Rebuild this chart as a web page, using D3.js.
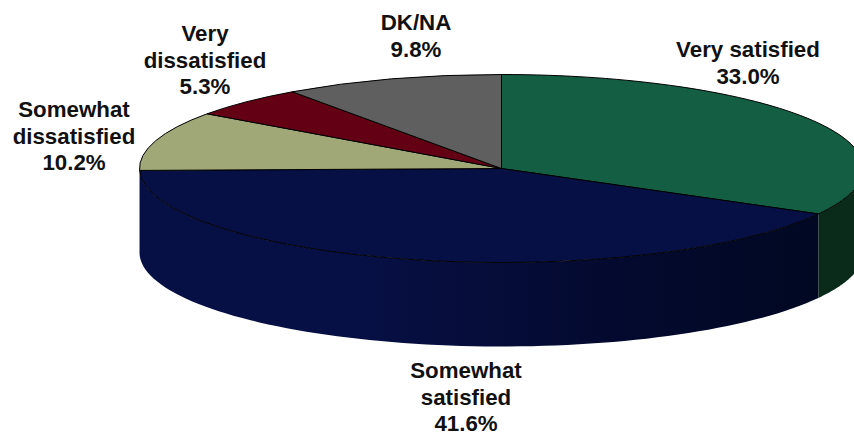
<!DOCTYPE html>
<html>
<head>
<meta charset="utf-8">
<script src="https://cdn.jsdelivr.net/npm/d3@7"></script>
<style>
html, body { margin: 0; padding: 0; background: #fff; overflow: hidden; }
text { font-family: "Liberation Sans", Arial, sans-serif; font-weight: bold; font-size: 22.3px; fill: #111; text-anchor: middle; }
</style>
</head>
<body>
<div id="chart"></div>
<script>
const categories = ["Very satisfied", "Somewhat satisfied", "Somewhat dissatisfied", "Very dissatisfied", "DK/NA"];
const values = [33.0, 41.6, 10.2, 5.3, 9.8];
const labelLines = [["Very satisfied"], ["Somewhat", "satisfied"], ["Somewhat", "dissatisfied"], ["Very", "dissatisfied"], ["DK/NA"]];

const topColors = ["#145e43", "#071045", "#a0a878", "#640014", "#5f5f5f"];
const labelPos = [[748, 57], [466, 378], [74, 117], [205, 41], [416, 30]];

const width = 854, height = 435;
const cx = 501.5, cy = 168.5, rx = 362, ry = 94, depth = 84;
const lineHeight = 26.5;

const svg = d3.select("#chart").append("svg")
    .attr("width", width)
    .attr("height", height);

const defs = svg.append("defs");
const navy = defs.append("linearGradient")
    .attr("id", "navySide")
    .attr("gradientUnits", "userSpaceOnUse")
    .attr("x1", cx - rx).attr("x2", cx + rx).attr("y1", 0).attr("y2", 0);
navy.append("stop").attr("offset", "0%").attr("stop-color", "#071045");
navy.append("stop").attr("offset", "30%").attr("stop-color", "#071045");
navy.append("stop").attr("offset", "62%").attr("stop-color", "#040a30");
navy.append("stop").attr("offset", "100%").attr("stop-color", "#000820");

const pie = d3.pie().sort(null).value(d => d);
const slices = pie(values);

const ex = a => cx + rx * Math.sin(a);
const ey = a => cy - ry * Math.cos(a);

// side wall, only the front half of the ellipse shows
const wall = d3.area()
    .x(a => ex(a))
    .y0(a => ey(a))
    .y1(a => ey(a) + depth);

function wallAngles(a0, a1) {
    const lo = Math.max(a0, Math.PI / 2), hi = Math.min(a1, Math.PI * 1.5);
    if (lo >= hi) return [];
    const n = 80;
    return d3.range(n + 1).map(i => lo + (hi - lo) * i / n);
}

const wallFills = ["#0a2a1a", "url(#navySide)", "url(#navySide)", "none", "none"];

svg.append("g").selectAll("path")
    .data(slices)
    .join("path")
    .attr("fill", (d, i) => wallFills[i])
    .attr("d", d => {
        const pts = wallAngles(d.startAngle, d.endAngle);
        return pts.length ? wall(pts) : null;
    });

// top face: arc squashed into an ellipse
const arc = d3.arc().innerRadius(0).outerRadius(rx);

svg.append("g")
    .attr("transform", `translate(${cx},${cy}) scale(1,${ry / rx})`)
    .selectAll("path")
    .data(slices)
    .join("path")
    .attr("d", arc)
    .attr("fill", (d, i) => topColors[i])
    .attr("stroke", "#000")
    .attr("stroke-width", 1)
    .attr("vector-effect", "non-scaling-stroke");

const labels = svg.append("g").selectAll("text")
    .data(categories)
    .join("text")
    .attr("transform", (d, i) => `translate(${labelPos[i][0]},${labelPos[i][1]})`);

labels.each(function (d, i) {
    const t = d3.select(this);
    const lines = labelLines[i].concat(d3.format(".1f")(values[i]) + "%");
    lines.forEach((line, k) => {
        t.append("tspan").attr("x", 0).attr("y", k * lineHeight).text(line);
    });
});
</script>
</body>
</html>
